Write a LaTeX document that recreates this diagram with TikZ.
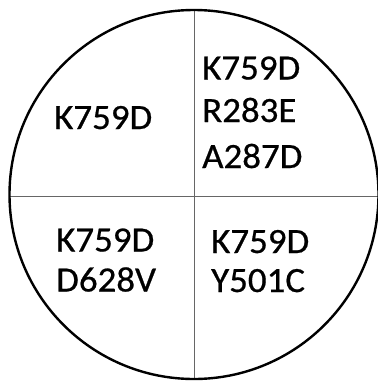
\documentclass[tikz,border=0pt]{standalone}
\usepackage{fontspec}
\setmainfont{Carlito}[FakeStretch=1.04,FakeBold=0.6]
\begin{document}
\begin{tikzpicture}[x=1pt,y=-1pt,
  lbl/.style={anchor=base west,inner sep=0pt,font=\fontsize{35.5}{42}\selectfont,align=left},
  divider/.style={line width=1pt,draw=black!60}]
\useasboundingbox (0,0) rectangle (378,381);
\coordinate (c) at (194,194.5);
\coordinate (top) at (194,10);
\coordinate (bot) at (194,379);
\coordinate (lft) at (9.5,196);
\coordinate (rgt) at (378,196);
\draw[divider] (top) -- (bot);
\draw[divider] (lft) -- (rgt);
\draw[line width=2.4pt] (c) circle[radius=184.5];
\node[lbl] (tl) at (54,129) {K759D};
\node[lbl] (tr1) at (202,79.5) {K759D};
\node[lbl] (tr2) at (202,122) {R283E};
\node[lbl] (tr3) at (202,168) {A287D};
\node[lbl] (bl1) at (56,251.5) {K759D};
\node[lbl] (bl2) at (56,291.5) {D628V};
\node[lbl] (br1) at (211,253) {K759D};
\node[lbl] (br2) at (211,292) {Y501C};
\end{tikzpicture}
\end{document}
